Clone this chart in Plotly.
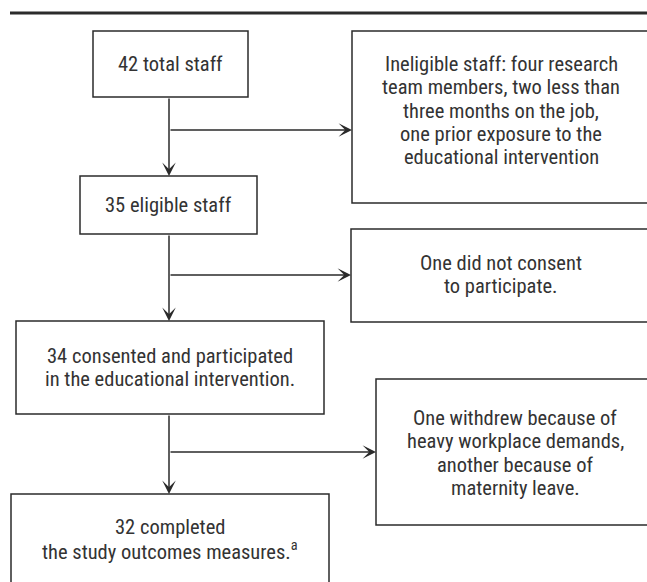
import plotly.graph_objects as go

# ---- content (texts of the flowchart) ----
main_texts = [
    ["42 total staff"],
    ["35 eligible staff"],
    ["34 consented and participated", "in the educational intervention."],
    ["32 completed", "the study outcomes measures.<sup>a</sup>"],
]
side_texts = [
    ["Ineligible staff: four research", "team members, two less than",
     "three months on the job,", "one prior exposure to the",
     "educational intervention"],
    ["One did not consent", "to participate."],
    ["One withdrew because of", "heavy workplace demands,",
     "another because of", "maternity leave."],
]

# ---- layout geometry (pixels, y downward) ----
main_boxes = [(93, 248, 31, 97), (80, 257, 176, 234), (16, 324, 321, 414), (11, 329, 494, 620)]
main_text_y = [64, 205, 356, 527]
side_boxes = [(352, 680, 31, 203), (351, 680, 229, 322), (376, 680, 379, 525)]
side_text_x = [501, 501, 515]
side_text_y = [64, 263, 418]
trunk_x = [169, 169, 169]
branch_y = [130, 275, 452]
LINE_H = 23.3

W, H = 647, 582
FONT = "Liberation Sans Narrow, Arial Narrow, Roboto Condensed, DejaVu Sans Condensed, sans-serif"
TXT = "#333333"
LN = "#2b2b2b"

fig = go.Figure()
shapes = []
annotations = []

# top rule
shapes.append(dict(type="line", xref="x", yref="y", x0=10, x1=700, y0=13, y1=13,
                   line=dict(color=LN, width=3)))

for (x0, x1, y0, y1) in main_boxes + side_boxes:
    shapes.append(dict(type="rect", xref="x", yref="y", x0=x0, x1=x1, y0=y0, y1=y1,
                       line=dict(color=LN, width=1.5), fillcolor="rgba(0,0,0,0)"))

def add_lines(lines, cx, y_first):
    for i, t in enumerate(lines):
        annotations.append(dict(x=cx, y=y_first + i * LINE_H, xref="x", yref="y",
                                text=t, showarrow=False, xanchor="center", yanchor="middle",
                                font=dict(family=FONT, size=20.5, color=TXT)))

for i, lines in enumerate(main_texts):
    b = main_boxes[i]
    cx = (b[0] + b[1]) / 2
    add_lines(lines, cx, main_text_y[i])

for i, lines in enumerate(side_texts):
    add_lines(lines, side_text_x[i], side_text_y[i])

arrow_common = dict(xref="x", yref="y", axref="x", ayref="y", text="", showarrow=True,
                    arrowhead=3, arrowsize=1.5, arrowwidth=1.5, arrowcolor=LN, standoff=0)

for i in range(3):
    top_box = main_boxes[i]
    next_box = main_boxes[i + 1]
    side = side_boxes[i]
    # vertical trunk with arrow to next box
    annotations.append(dict(x=trunk_x[i], y=next_box[2], ax=trunk_x[i], ay=top_box[3], **arrow_common))
    # horizontal branch with arrow to side box
    annotations.append(dict(x=side[0], y=branch_y[i], ax=trunk_x[i], ay=branch_y[i], **arrow_common))

fig.update_layout(
    width=W, height=H, margin=dict(l=0, r=0, t=0, b=0),
    paper_bgcolor="white", plot_bgcolor="white",
    xaxis=dict(range=[0, W], visible=False, fixedrange=True),
    yaxis=dict(range=[H, 0], visible=False, fixedrange=True),
    shapes=shapes, annotations=annotations, showlegend=False,
)
fig.write_html("out.html", config={"displayModeBar": False},
               post_script="document.body.style.margin='0';document.body.style.overflow='hidden';")
